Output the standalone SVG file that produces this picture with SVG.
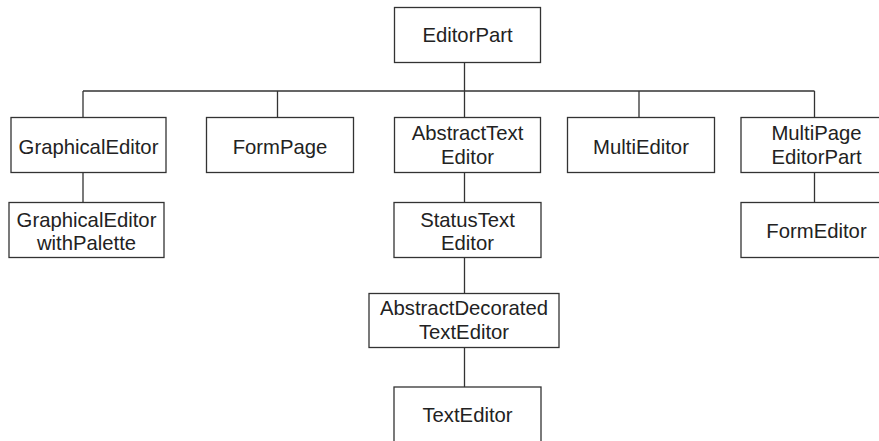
<svg xmlns="http://www.w3.org/2000/svg" width="879" height="441" viewBox="0 0 879 441">
<style>
.box{fill:#fff;stroke:#333;stroke-width:1.3}
.lbl{font-family:"Liberation Sans",Arial,sans-serif;font-size:20.3px;fill:#222;text-anchor:middle}
.con{stroke:#333;stroke-width:1.3;fill:none}
</style>
<rect width="879" height="441" fill="#fff"/>
<g id="connectors">
<path class="con" d="M464.5 62.5V91M83 91H814.5M83 91V117.5M277.5 91V117.5M464.5 91V117.5M639 91V117.5M814.5 91V117.5"/>
<path class="con" d="M83 172.5V202.5M464.5 172.5V202.5M464.5 257.5V293.5M464.5 347.5V387M814.5 172.5V202.5"/>
</g>
<g id="EditorPart"><rect class="box" x="394.5" y="7.5" width="146" height="55"/><text class="lbl" x="467.5" y="42">EditorPart</text></g>
<g id="GraphicalEditor"><rect class="box" x="11" y="117.5" width="155" height="55"/><text class="lbl" x="88.5" y="153.5">GraphicalEditor</text></g>
<g id="FormPage"><rect class="box" x="206.5" y="117.5" width="147" height="55"/><text class="lbl" x="280" y="153.5">FormPage</text></g>
<g id="AbstractTextEditor"><rect class="box" x="394.5" y="117.5" width="146" height="55"/><text class="lbl" x="467.5" y="140">AbstractText</text><text class="lbl" x="467.5" y="164">Editor</text></g>
<g id="MultiEditor"><rect class="box" x="567.5" y="117.5" width="147" height="55"/><text class="lbl" x="641" y="153.5">MultiEditor</text></g>
<g id="MultiPageEditorPart"><rect class="box" x="741" y="117.5" width="147" height="55"/><text class="lbl" x="816.5" y="140">MultiPage</text><text class="lbl" x="816.5" y="164">EditorPart</text></g>
<g id="GraphicalEditorwithPalette"><rect class="box" x="9" y="202.5" width="155" height="55"/><text class="lbl" x="86.5" y="226.5">GraphicalEditor</text><text class="lbl" x="86.5" y="250">withPalette</text></g>
<g id="StatusTextEditor"><rect class="box" x="394" y="202.5" width="147" height="55"/><text class="lbl" x="467.5" y="226.5">StatusText</text><text class="lbl" x="467.5" y="250">Editor</text></g>
<g id="FormEditor"><rect class="box" x="741" y="202.5" width="147" height="55"/><text class="lbl" x="816.5" y="238">FormEditor</text></g>
<g id="AbstractDecoratedTextEditor"><rect class="box" x="369" y="293.5" width="190" height="54"/><text class="lbl" x="464" y="315">AbstractDecorated</text><text class="lbl" x="464" y="338.5">TextEditor</text></g>
<g id="TextEditor"><rect class="box" x="394" y="387" width="147" height="56"/><text class="lbl" x="467.5" y="421.5">TextEditor</text></g>
</svg>
